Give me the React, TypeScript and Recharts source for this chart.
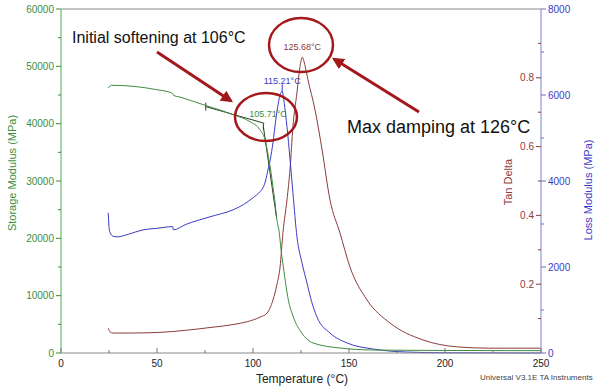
import React from "react";
import {
  ComposedChart,
  Line,
  XAxis,
  YAxis,
  ReferenceLine,
  ReferenceDot,
} from "recharts";

// storage modulus (green, left axis)
const storageTemp = [24.6, 26.4, 37.5, 49.8, 57.7, 58.3, 58.6, 62, 74, 89.6, 98.4, 103.6, 106.25, 108, 109.4, 110.6, 111.5, 112.3, 113.7, 114.6, 115.8, 118.4, 121, 125.4, 131.3, 145.3, 162.5, 180, 200, 225, 250];
const storageMPa = [46240, 46690, 46520, 45930, 45350, 45200, 44950, 44630, 43320, 41570, 40350, 38950, 37200, 34290, 31440, 28470, 26200, 23580, 20960, 17990, 15020, 9260, 6290, 3490, 1750, 870, 520, 470, 440, 420, 410];

// loss modulus (blue, far right axis)
const lossTemp = [24.6, 24.9, 25.5, 27, 29.2, 35, 42.7, 50, 58.2, 58.5, 65, 77.6, 89.6, 95, 100, 103.6, 105.2, 106.5, 107.8, 109, 110.4, 111.8, 113.2, 114.3, 115.21, 116.3, 117.7, 119.3, 120.8, 122.9, 125.5, 128.1, 130.5, 133.3, 140.1, 149, 162.5, 180, 200, 250];
const lossMPa = [3260, 3000, 2800, 2720, 2700, 2760, 2864, 2900, 2940, 2864, 2990, 3167, 3330, 3450, 3610, 3749, 3842, 4000, 4262, 4500, 4890, 5400, 5815, 6030, 6078, 5800, 5263, 4500, 3726, 2701, 2100, 1630, 1200, 838, 466, 233, 93, 23, 5, 0];

// tan delta (dark red, inner right axis)
const tanTemp = [24.6, 25.5, 27, 35, 51.5, 65, 77.6, 90, 97, 103.6, 107.3, 110.4, 112.5, 114.1, 115.6, 117.7, 119.3, 120.8, 122.9, 124.5, 125.68, 127.1, 128.6, 132.3, 136, 140.1, 145.3, 150.5, 159.4, 171.4, 188.5, 206, 223, 250];
const tanDelta = [0.072, 0.062, 0.058, 0.058, 0.06, 0.066, 0.074, 0.083, 0.091, 0.104, 0.116, 0.154, 0.2, 0.25, 0.35, 0.445, 0.535, 0.658, 0.757, 0.833, 0.859, 0.835, 0.795, 0.707, 0.59, 0.445, 0.349, 0.25, 0.154, 0.087, 0.038, 0.018, 0.014, 0.014];

const tempTicks = [0, 25, 50, 75, 100, 125, 150, 175, 200, 225, 250];
const storageTicks = [0, 5000, 10000, 15000, 20000, 25000, 30000, 35000, 40000, 45000, 50000, 55000, 60000];
const lossTicks = [0, 1000, 2000, 3000, 4000, 5000, 6000, 7000, 8000];
const tanTicks = [0.1, 0.2, 0.3, 0.4, 0.5, 0.6, 0.7, 0.8, 0.9];

const storageData = storageTemp.map((t, i) => ({ t, v: storageMPa[i] }));
const lossData = lossTemp.map((t, i) => ({ t, v: lossMPa[i] }));
const tanData = tanTemp.map((t, i) => ({ t, v: tanDelta[i] }));

const FONT = '"Liberation Sans", Arial, sans-serif';
const GREEN = "#3d8d3d";
const BLUE = "#3b3bc6";
const RED = "#8c3b3b";
const TANGENT = "#2f3a2f";
const ANNOT = "#a3191b";

type Side = "left" | "right" | "inner" | "bottom";

function makeTick(side: Side, color: string, textColor: string, isMajor: (v: number) => boolean) {
  return function AxisTick(props: any) {
    const { x, y, payload } = props;
    const v: number = payload.value;
    const major = isMajor(v);
    const len = major ? 5 : 3;
    const label = String(v);
    if (side === "bottom") {
      return (
        <g>
          <line x1={x} x2={x} y1={y} y2={y - len} stroke={color} />
          {major && (
            <text x={x} y={y + 14} textAnchor="middle" fill={textColor} fontSize={10} fontFamily={FONT}>
              {label}
            </text>
          )}
        </g>
      );
    }
    if (side === "right") {
      return (
        <g>
          <line x1={x} x2={x + len} y1={y} y2={y} stroke={color} />
          {major && (
            <text x={x + 7} y={y + 3.5} textAnchor="start" fill={textColor} fontSize={10} fontFamily={FONT}>
              {label}
            </text>
          )}
        </g>
      );
    }
    // left and inner both point to the left
    return (
      <g>
        <line x1={x - len} x2={x} y1={y} y2={y} stroke={color} />
        {major && (
          <text x={x - 7} y={y + 3.5} textAnchor="end" fill={textColor} fontSize={10} fontFamily={FONT}>
            {label}
          </text>
        )}
      </g>
    );
  };
}

const StorageTick = makeTick("left", GREEN, GREEN, (v) => v % 10000 === 0);
const LossTick = makeTick("right", "#6b6bd0", BLUE, (v) => v % 2000 === 0);
const TanTick = makeTick("inner", RED, RED, (v) => Math.round(v * 10) % 2 === 0);
const TempTick = makeTick("bottom", "#777", "#222", (v) => v % 50 === 0);

export default function App() {
  return (
    <div style={{ position: "absolute", left: 0, top: 0, width: 595, height: 389, background: "#fff" }}>
      <ComposedChart width={595} height={389} margin={{ top: 9, right: 0, bottom: 0, left: 0 }}>
        <XAxis
          type="number"
          dataKey="t"
          domain={[0, 250]}
          ticks={tempTicks}
          interval={0}
          height={36}
          tickSize={0}
          tickMargin={0}
          tickLine={false}
          axisLine={{ stroke: "#888" }}
          tick={(p: any) => <TempTick {...p} />}
        />
        <YAxis
          yAxisId="storage"
          orientation="left"
          type="number"
          domain={[0, 60000]}
          ticks={storageTicks}
          interval={0}
          width={61}
          tickSize={0}
          tickMargin={0}
          tickLine={false}
          axisLine={{ stroke: "#a6d6a6", strokeWidth: 2 }}
          tick={(p: any) => <StorageTick {...p} />}
        />
        <YAxis
          yAxisId="loss"
          orientation="right"
          type="number"
          domain={[0, 8000]}
          ticks={lossTicks}
          interval={0}
          width={54}
          tickSize={0}
          tickMargin={0}
          tickLine={false}
          axisLine={{ stroke: "#a9a9e4", strokeWidth: 1.5 }}
          tick={(p: any) => <LossTick {...p} />}
        />
        <YAxis
          yAxisId="tan"
          orientation="right"
          mirror
          type="number"
          domain={[0, 1]}
          ticks={tanTicks}
          interval={0}
          width={40}
          tickSize={0}
          tickMargin={0}
          tickLine={false}
          axisLine={false}
          tick={(p: any) => <TanTick {...p} />}
        />

        <ReferenceLine yAxisId="storage" y={60000} stroke="#8a8a8a" />

        {/* onset construction lines */}
        <ReferenceLine yAxisId="storage" segment={[{ x: 75.4, y: 42970 }, { x: 105.4, y: 40120 }]} stroke={TANGENT} />
        <ReferenceLine yAxisId="storage" segment={[{ x: 75.4, y: 43670 }, { x: 75.4, y: 42270 }]} stroke={TANGENT} />
        <ReferenceLine yAxisId="storage" segment={[{ x: 105.4, y: 40120 }, { x: 105.4, y: 38900 }]} stroke={TANGENT} />
        <ReferenceLine yAxisId="storage" segment={[{ x: 105.4, y: 39500 }, { x: 112.3, y: 23500 }]} stroke={TANGENT} />
        <ReferenceLine yAxisId="loss" segment={[{ x: 115.21, y: 6078 }, { x: 115.21, y: 6250 }]} stroke={BLUE} />

        <Line yAxisId="tan" data={tanData} dataKey="v" type="monotone" stroke={RED} strokeWidth={1} dot={false} isAnimationActive={false} />
        <Line yAxisId="loss" data={lossData} dataKey="v" type="monotone" stroke={BLUE} strokeWidth={1} dot={false} isAnimationActive={false} />
        <Line yAxisId="storage" data={storageData} dataKey="v" type="monotone" stroke={GREEN} strokeWidth={1} dot={false} isAnimationActive={false} />

        <ReferenceDot
          yAxisId="storage"
          x={105.71}
          y={40100}
          r={0.5}
          fill={GREEN}
          stroke="none"
          label={{ value: "105.71°C", position: "top", offset: 6, fill: GREEN, fontSize: 9, fontFamily: FONT, dx: 4 }}
        />
        <ReferenceDot
          yAxisId="loss"
          x={115.21}
          y={6078}
          r={0.5}
          fill={BLUE}
          stroke="none"
          label={{ value: "115.21°C", position: "top", offset: 7, fill: BLUE, fontSize: 9, fontFamily: FONT }}
        />
        <ReferenceDot
          yAxisId="tan"
          x={125.68}
          y={0.859}
          r={0.5}
          fill={RED}
          stroke="none"
          label={{ value: "125.68°C", position: "top", offset: 7, fill: RED, fontSize: 9, fontFamily: FONT }}
        />
      </ComposedChart>

      <svg
        width={595}
        height={389}
        style={{ position: "absolute", left: 0, top: 0, pointerEvents: "none" }}
        fontFamily={FONT}
      >
        <defs>
          <marker id="head" viewBox="0 0 10 10" refX="8" refY="5" markerWidth="4" markerHeight="4" orient="auto">
            <path d="M0,0 L10,5 L0,10 z" fill={ANNOT} />
          </marker>
        </defs>
        <text x={16} y={173} transform="rotate(-90 16 173)" textAnchor="middle" fontSize={11} fill={GREEN}>
          Storage Modulus (MPa)
        </text>
        <text x={512} y={182} transform="rotate(-90 512 182)" textAnchor="middle" fontSize={11} fill={RED}>
          Tan Delta
        </text>
        <text x={592} y={190} transform="rotate(-90 592 190)" textAnchor="middle" fontSize={11} fill={BLUE}>
          Loss Modulus (MPa)
        </text>
        <text x={302} y={383} textAnchor="middle" fontSize={12} fill="#222">
          Temperature (°C)
        </text>
        <text x={480} y={380} fontSize={8} fill="#444">
          Universal V3.1E TA Instruments
        </text>

        <text x={72} y={43} fontSize={16} fill="#111">
          Initial softening at 106°C
        </text>
        <text x={347} y={133} fontSize={18} fill="#111">
          Max damping at 126°C
        </text>

        <ellipse cx={266} cy={117} rx={31} ry={24} fill="none" stroke={ANNOT} strokeWidth={2.5} />
        <ellipse cx={301} cy={45} rx={32} ry={27} fill="none" stroke={ANNOT} strokeWidth={2.5} />
        <line x1={157} y1={52} x2={231} y2={101} stroke={ANNOT} strokeWidth={3} markerEnd="url(#head)" />
        <line x1={419} y1={112} x2={334} y2={59} stroke={ANNOT} strokeWidth={3} markerEnd="url(#head)" />
      </svg>
    </div>
  );
}
